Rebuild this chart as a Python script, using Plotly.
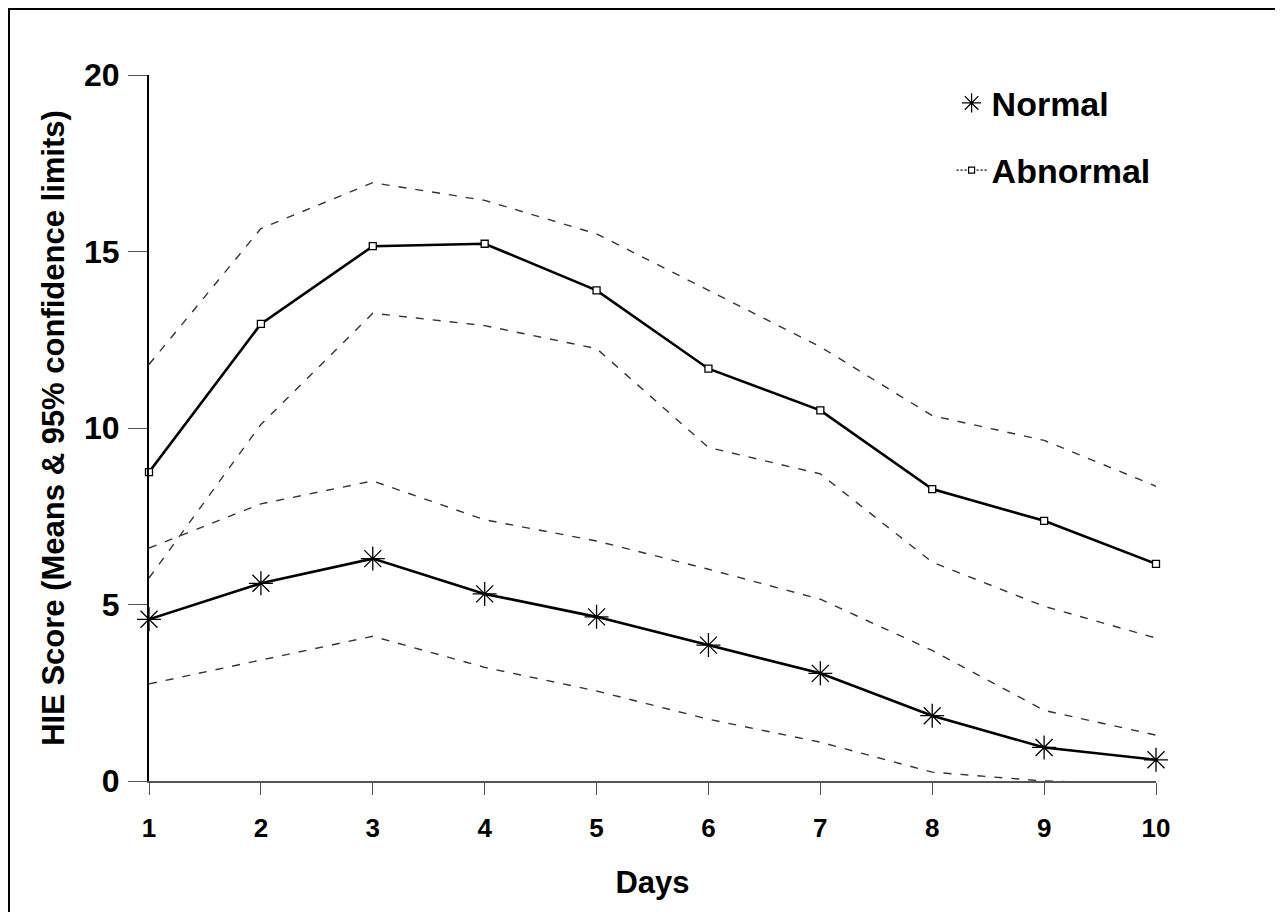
import plotly.graph_objects as go

days = [1, 2, 3, 4, 5, 6, 7, 8, 9, 10]

abnormal_mean = [8.75, 12.95, 15.15, 15.22, 13.9, 11.68, 10.5, 8.27, 7.37, 6.15]
abnormal_upper = [11.8, 15.65, 16.95, 16.45, 15.5, 13.9, 12.3, 10.35, 9.65, 8.35]
abnormal_lower = [5.75, 10.1, 13.25, 12.9, 12.25, 9.45, 8.7, 6.2, 4.95, 4.05]

normal_mean = [4.58, 5.6, 6.3, 5.3, 4.65, 3.85, 3.05, 1.85, 0.95, 0.6]
normal_upper = [6.6, 7.85, 8.5, 7.4, 6.8, 6.0, 5.15, 3.7, 2.0, 1.3]
normal_lower = [2.75, 3.42, 4.1, 3.22, 2.55, 1.75, 1.1, 0.25, 0.0, -0.1]

y_ticks = [0, 5, 10, 15, 20]
x_title = "Days"
y_title = "HIE Score (Means & 95% confidence limits)"
series_names = ["Normal", "Abnormal"]

FONT = "Liberation Sans, Arial, sans-serif"
CI_STYLE = dict(color="#333333", width=1.4, dash="8px,9px")

# page body has an 8px margin; plot area is kept at x 149..1156, y 75..781 in the page
W, H = 1275, 904
L, T = 141, 67
PW, PH = 1007, 706
R = W - L - PW
B = H - T - PH

fig = go.Figure()

for ys in (abnormal_upper, abnormal_lower, normal_upper, normal_lower):
    fig.add_trace(go.Scatter(x=days, y=ys, mode="lines", line=CI_STYLE,
                             showlegend=False, hoverinfo="skip"))

fig.add_trace(go.Scatter(
    x=days, y=abnormal_mean, mode="lines+markers", name=series_names[1],
    line=dict(color="black", width=2.6),
    marker=dict(symbol="square", size=7, color="white",
                line=dict(color="black", width=1.3)),
    cliponaxis=False, showlegend=False))

fig.add_trace(go.Scatter(
    x=days, y=normal_mean, mode="lines+markers", name=series_names[0],
    line=dict(color="black", width=2.6),
    marker=dict(symbol="asterisk-open", size=20, color="black",
                line=dict(color="black", width=1.3)),
    cliponaxis=False, showlegend=False))

# legend entries
fig.add_trace(go.Scatter(
    x=[None], y=[None], mode="markers", name=series_names[0],
    marker=dict(symbol="asterisk-open", size=16, color="black",
                line=dict(color="black", width=1.3)),
    legendgroup="a"))
fig.add_trace(go.Scatter(
    x=[None], y=[None], mode="lines+markers", name=series_names[1],
    line=dict(color="black", width=1.2, dash="2px,2px"),
    marker=dict(symbol="square", size=6, color="white",
                line=dict(color="black", width=1.2)),
    legendgroup="b"))

fig.update_layout(
    width=W, height=H,
    margin=dict(l=L, r=R, t=T, b=B),
    paper_bgcolor="white", plot_bgcolor="white",
    font=dict(family=FONT, color="black"),
    legend=dict(x=0.797, y=1.001, xanchor="left", yanchor="top",
                font=dict(size=34, family=FONT, weight="bold"),
                tracegroupgap=20, traceorder="grouped",
                bgcolor="rgba(0,0,0,0)"),
    xaxis=dict(range=[1, 10], tickmode="array", tickvals=days,
               ticktext=[str(d) for d in days],
               showgrid=False, zeroline=False, showline=True,
               linecolor="#555", linewidth=1.5,
               ticks="outside", ticklen=12, tickcolor="#555", tickwidth=1,
               ticklabelstandoff=11,
               tickfont=dict(size=26, family=FONT, weight="bold"),
               title=dict(text=x_title, standoff=29,
                          font=dict(size=31, family=FONT, weight="bold"))),
    yaxis=dict(range=[0, 20], tickmode="array", tickvals=y_ticks,
               showgrid=False, zeroline=False, showline=True,
               linecolor="black", linewidth=2,
               ticks="outside", ticklen=19, tickcolor="#555", tickwidth=1.2,
               ticklabelstandoff=2,
               tickfont=dict(size=32, family=FONT, weight="bold"),
               title=dict(text=y_title, standoff=10,
                          font=dict(size=31, family=FONT, weight="bold"))),
    shapes=[dict(type="rect", xref="paper", yref="paper",
                 x0=(9 - 149) / PW, x1=(1282 - 149) / PW,
                 y0=(781 - 930) / PH, y1=(781 - 9) / PH,
                 line=dict(color="black", width=2), fillcolor="rgba(0,0,0,0)",
                 layer="above")],
)

fig.write_html("out.html")
